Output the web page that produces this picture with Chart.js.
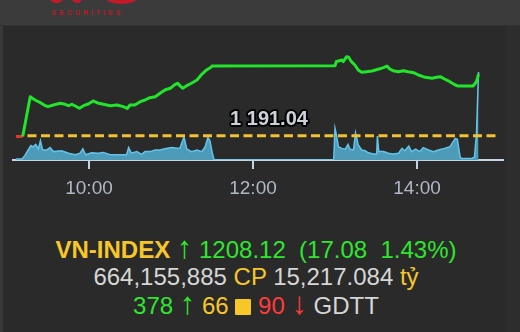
<!DOCTYPE html>
<html>
<head>
<meta charset="utf-8">
<script src="https://cdn.jsdelivr.net/npm/chart.js@4/dist/chart.umd.min.js"></script>
<style>
  html, body { margin: 0; padding: 0; }
  body {
    width: 520px; height: 332px; position: relative; overflow: hidden;
    background: #2a2a2a; font-family: 'Liberation Sans', Arial, sans-serif;
  }
  #topbar { position: absolute; left: 0; top: 0; width: 520px; height: 25px; background: #3b3b3b; border-bottom: 1px solid #323232; overflow: hidden; }
  .blob { position: absolute; background: #c11a28; border-radius: 50%; filter: blur(0.6px); }
  #logoText { position: absolute; left: 52px; top: 9px; font-size: 7px; font-weight: bold; letter-spacing: 3px; color: #c01c2a; filter: blur(0.3px); }
  #leftEdge { position: absolute; left: 0; top: 26px; width: 3px; height: 306px; background: #393939; }
  #rightEdge { position: absolute; left: 505px; top: 26px; width: 15px; height: 306px; background: #2d2d2d; }
  #chartBox { position: absolute; left: 0; top: 26px; width: 520px; height: 190px; }
  .info { position: absolute; left: 0; width: 512px; text-align: center; font-size: 24px; line-height: 27px; white-space: pre; }
  .b { font-weight: bold; }
  .yel { color: #f7c72a; }
  .grn { color: #2fe62f; }
  .red { color: #ff3a3a; }
  .wht { color: #d6d6d6; }
  .arr { font-size: 31px; line-height: 0; }
  .sq { display: inline-block; width: 16px; height: 16px; background: #f7c72a; border-radius: 1px; vertical-align: -1px; }
</style>
</head>
<body>
<div id="topbar">
  <div class="blob" style="left:50px; top:-6px; width:13px; height:9px;"></div>
  <div class="blob" style="left:72px; top:-6px; width:10px; height:9px;"></div>
  <div class="blob" style="left:106px; top:-8px; width:31px; height:12px;"></div>
  <div id="logoText">SECURITIES</div>
</div>
<div id="leftEdge"></div>
<div id="rightEdge"></div>
<div id="chartBox"><canvas id="indexChart" width="520" height="190"></canvas></div>

<div class="info" style="top:236px;"><span class="yel b">VN-INDEX</span> <span class="grn"><span class="arr">↑</span> 1208.12  (17.08  1.43%)</span></div>
<div class="info" style="top:262.5px;"><span class="wht">664,155,885</span> <span class="yel">CP</span> <span class="wht">15,217.084</span> <span class="yel">tỷ</span></div>
<div class="info" style="top:291.5px;"><span class="grn">378 <span class="arr">↑</span></span> <span class="yel">66 <span class="sq"></span></span> <span class="red">90 <span class="arr">↓</span></span> <span class="wht">GDTT</span></div>

<script>
// VN-INDEX intraday
const priceTimes = ['09:06:30','09:11:30','09:17:00','09:20:30','09:24:00','09:28:00','09:30:00','09:34:00','09:39:00','09:42:30',
  '09:45:00','09:47:30','09:50:00','09:53:00','09:56:00','09:59:30','10:03:00','10:07:00','10:10:30','10:15:30',
  '10:20:30','10:25:00','10:28:00','10:30:00','10:33:30','10:37:30','10:41:00','10:44:30','10:48:30','10:52:00',
  '10:55:30','10:59:30','11:03:00','11:05:00','11:06:30','11:08:30','11:11:30','11:15:00','11:19:00','11:22:30',
  '11:26:00','11:29:30','11:30:00','13:00:00','13:01:00','13:02:30','13:05:00','13:06:00','13:08:30','13:10:00',
  '13:12:00','13:14:30','13:17:00','13:19:30','13:23:00','13:27:00','13:31:30','13:35:30','13:38:00','13:40:00',
  '13:42:30','13:46:30','13:50:00','13:53:30','13:57:30','14:01:00','14:06:00','14:11:00','14:14:30','14:17:00',
  '14:20:30','14:24:00','14:28:00','14:30:00','14:41:00','14:43:30','14:45:00'];
const prices = [1190.82,1190.82,1201.87,1200.96,1200.32,1199.37,1199.10,1199.57,1200.04,1199.76,
  1199.37,1199.76,1199.29,1198.65,1199.37,1199.85,1200.68,1200.04,1199.76,1199.37,
  1199.57,1199.10,1198.60,1199.57,1199.57,1200.48,1200.96,1201.60,1201.87,1202.82,
  1203.73,1204.21,1205.32,1205.60,1204.93,1204.21,1204.93,1205.60,1206.51,1208.10,
  1209.29,1210.12,1210.40,1210.48,1211.65,1211.79,1212.07,1211.60,1212.98,1212.82,
  1211.60,1210.68,1209.29,1208.65,1208.82,1209.01,1209.48,1209.93,1210.40,1209.57,
  1209.10,1208.82,1209.10,1208.82,1208.54,1207.90,1207.26,1206.98,1207.26,1207.43,
  1206.71,1206.04,1205.12,1204.85,1204.85,1206.04,1208.12];

// matched volume, millions of shares
const volumeTimes = ['09:06:30','09:11:00','09:13:00','09:15:30','09:17:30','09:19:00','09:21:00','09:23:00','09:24:30','09:26:00',
  '09:29:00','09:31:30','09:34:00','09:40:00','09:45:00','09:50:00','09:53:30','09:55:30','09:57:30','10:02:00',
  '10:07:00','10:10:30','10:15:30','10:22:30','10:27:30','10:29:00','10:31:00','10:35:00','10:38:30','10:41:00',
  '10:44:30','10:48:30','10:52:00','10:55:30','11:00:30','11:06:30','11:09:30','11:11:30','11:15:00','11:19:00',
  '11:22:30','11:25:00','11:27:00','11:28:30','11:30:00','11:31:30','12:59:00','13:00:00','13:01:00','13:02:30',
  '13:05:00','13:07:30','13:09:30','13:11:00','13:13:30','13:15:00','13:17:00','13:19:30','13:22:00','13:24:30',
  '13:28:00','13:30:30','13:31:00','13:32:00','13:35:30','13:39:00','13:42:30','13:46:30','13:49:00','13:51:00',
  '13:54:00','13:56:00','13:59:00','14:02:00','14:04:30','14:08:30','14:12:00','14:15:30','14:20:00','14:24:00',
  '14:28:00','14:29:30','14:31:30','14:32:30','14:40:00','14:42:00','14:43:30','14:45:00'];
const volumes = [0.25,0.25,1.1,2.5,3.6,3.3,3.9,2.8,4.8,2.5,
  2.5,3.1,2.1,2.3,1.7,1.3,1.7,2.8,1.3,1.8,
  1.7,1.9,1.3,1.3,1.3,3.1,1.7,2.1,1.4,2.1,
  2.1,2.5,2.5,2.8,3.1,2.9,5.8,2.8,2.1,2.5,
  2.1,3.3,5.6,4.8,2.1,0,0,7.9,6.3,3.3,
  2.9,2.7,3.9,2.7,2.5,6.8,3.8,2.5,2.3,1.8,
  1.5,1.5,6.0,2.1,2.1,1.7,1.5,1.7,2.9,2.3,
  3.5,2.1,2.7,2.1,3.1,2.5,2.1,2.5,2.9,3.3,
  5.4,5.2,0.8,0.4,0.4,0.7,6.7,22.0];

const refPrice = 1191.04;
const refTimes = ['09:15:00', '15:00:00'];
const tickTimes = ['10:00', '12:00', '14:00'];

const GREEN = '#22e42a';
const RED = '#e8322d';

// minutes since 09:00
function toMinutes(t) {
    const parts = t.split(':').map(Number);
    return (parts[0] - 9) * 60 + parts[1] + (parts[2] || 0) / 60;
}
function minutesToLabel(v) {
    const h = 9 + Math.floor(v / 60);
    const m = Math.round(v % 60);
    return String(h).padStart(2, '0') + ':' + String(m).padStart(2, '0');
}
function refText(v) {
    const s = v.toFixed(2).split('.');
    return s[0].replace(/\B(?=(\d{3})+(?!\d))/g, ' ') + '.' + s[1];
}

const refLabel = {
    id: 'refLabel',
    afterDatasetsDraw(chart) {
        const { ctx, chartArea, scales } = chart;
        const x = (chartArea.left + chartArea.right) / 2 + 11;
        const y = scales.y.getPixelForValue(refPrice) - 16;
        ctx.save();
        ctx.font = 'bold 20px "Liberation Sans"';
        ctx.textAlign = 'center';
        ctx.textBaseline = 'middle';
        ctx.lineJoin = 'round';
        ctx.lineWidth = 4;
        ctx.strokeStyle = 'rgba(0,0,0,0.9)';
        ctx.strokeText(refText(refPrice), x, y);
        ctx.fillStyle = '#cdd1da';
        ctx.fillText(refText(refPrice), x, y);
        ctx.restore();
    }
};

Chart.defaults.font.family = '"Liberation Sans", Arial, sans-serif';

const ctx = document.getElementById('indexChart').getContext('2d');
new Chart(ctx, {
    type: 'line',
    data: {
        datasets: [{
            label: 'VN-INDEX',
            data: priceTimes.map((t, i) => ({ x: toMinutes(t), y: prices[i] })),
            yAxisID: 'y',
            borderColor: GREEN,
            borderWidth: 3,
            borderJoinStyle: 'round',
            pointRadius: 0,
            tension: 0,
            segment: {
                borderColor: c => (c.p0.parsed.y < refPrice && c.p1.parsed.y < refPrice) ? RED : GREEN
            }
        }, {
            label: 'Tham chiếu',
            data: refTimes.map(t => ({ x: toMinutes(t), y: refPrice })),
            yAxisID: 'y',
            borderColor: '#f2c230',
            borderWidth: 3,
            borderDash: [9, 4.5],
            pointRadius: 0
        }, {
            label: 'Khối lượng',
            data: volumeTimes.map((t, i) => ({ x: toMinutes(t), y: volumes[i] })),
            yAxisID: 'yVol',
            borderColor: '#62c4e8',
            borderWidth: 1.5,
            backgroundColor: '#4d9bb9',
            fill: 'origin',
            pointRadius: 0,
            tension: 0
        }]
    },
    options: {
        responsive: false,
        animation: false,
        devicePixelRatio: 1,
        layout: { padding: { left: 13, right: 17, top: 14, bottom: 6 } },
        plugins: { legend: { display: false }, tooltip: { enabled: false } },
        scales: {
            x: {
                type: 'linear',
                min: 4.4,
                max: 362.9,
                z: 1,
                afterFit: scale => { scale.height = 50; },
                afterBuildTicks: scale => {
                    scale.ticks = tickTimes.map(t => ({ value: toMinutes(t) }));
                },
                border: { display: true, color: '#c5d3e3', width: 2 },
                grid: { display: true, drawOnChartArea: false, drawTicks: true, tickLength: 9, color: '#c5d3e3', lineWidth: 2 },
                ticks: {
                    autoSkip: false,
                    maxRotation: 0,
                    padding: 8,
                    color: '#b0b8c6',
                    font: { size: 19 },
                    callback: v => minutesToLabel(v)
                }
            },
            y: { display: false, min: 1184.29, max: 1217.62 },
            yVol: { display: false, min: 0, max: 30 }
        }
    },
    plugins: [refLabel]
});
</script>
</body>
</html>
